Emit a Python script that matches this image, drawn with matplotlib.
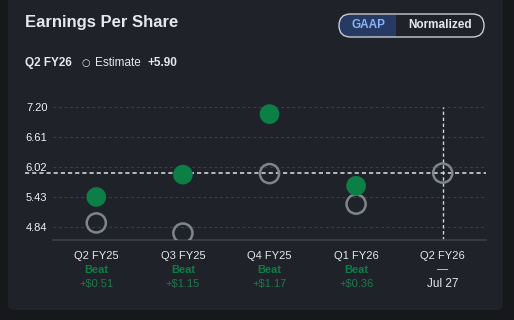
import numpy as np
import matplotlib.pyplot as plt
from matplotlib.patches import FancyBboxPatch, Rectangle

# Datos
quarters = ["Q2 FY25", "Q3 FY25", "Q4 FY25", "Q1 FY26", "Q2 FY26"]
estimates = [4.92, 4.72, 5.89, 5.29, 5.90]
actuals = [5.43, 5.87, 7.06, 5.65]
results = ["Beat", "Beat", "Beat", "Beat", "—"]
surprises = ["+$0.51", "+$1.15", "+$1.17", "+$0.36", "Jul 27"]
yticks = [4.84, 5.43, 6.02, 6.61, 7.20]
next_estimate = 5.90

BG = "#16181c"
CARD = "#1f2229"
GREEN = "#0b7f46"
GREY = "#80858c"
TXT = "#e6e8eb"
GRID = "#3b3f47"

plt.rcParams['font.family'] = ['Liberation Sans', 'DejaVu Sans']

fig = plt.figure(figsize=(5.14, 3.20), dpi=100, facecolor=BG)
W, H = 514, 320

def fx(px):
    return px / W

def fy(py):
    return 1 - py / H

# Capa de fondo en coordenadas de pixel
bg = fig.add_axes([0, 0, 1, 1], zorder=-1)
bg.set_xlim(0, W)
bg.set_ylim(H, 0)
bg.axis("off")
bg.add_patch(FancyBboxPatch((8, -20), 495, 330,
                            boxstyle="round,pad=0,rounding_size=6",
                            facecolor=CARD, edgecolor="none"))

# Selector GAAP / Normalized
bg.add_patch(FancyBboxPatch((339.5, 14.5), 56, 22,
                            boxstyle="round,pad=0,rounding_size=11",
                            facecolor="#263a63", edgecolor="none"))
bg.add_patch(Rectangle((370, 14.5), 26, 22, facecolor="#263a63",
                       edgecolor="none"))
bg.add_patch(FancyBboxPatch((339, 14), 145, 23,
                            boxstyle="round,pad=0,rounding_size=11.5",
                            facecolor="none", edgecolor="#c9ccd1",
                            linewidth=1.0))
bg.text(368, 25, "GAAP", color="#8ab4f8", fontsize=8.5,
        fontweight="bold", ha="center", va="center")
bg.text(440, 25, "Normalized", color=TXT, fontsize=8.5,
        fontweight="bold", ha="center", va="center")

# Titulo y subtitulo
bg.text(25, 22, "Earnings Per Share", color=TXT, fontsize=12,
        fontweight="bold", va="center", ha="left")
bg.text(25, 63, "Q2 FY26", color=TXT, fontsize=8.5,
        fontweight="bold", va="center")
bg.text(82, 63, "○", color=TXT, fontsize=7, va="center",
        family=['DejaVu Sans'])
bg.text(95, 63, "Estimate", color=TXT, fontsize=8.5, va="center")
bg.text(147, 63, "+%.2f" % next_estimate, color=TXT, fontsize=8.5,
        fontweight="bold", va="center")

# Grafico
ax = fig.add_axes([fx(53), fy(240), fx(486) - fx(53), (240 - 95) / H])
ax.set_facecolor("none")
x = np.arange(len(quarters))

ax.set_xlim(-0.5, 4.5)
ax.set_ylim(4.584, 7.436)
ax.set_yticks(yticks)
ax.set_yticklabels(["%.2f" % v for v in yticks])
for v in yticks:
    ax.axhline(v, color=GRID, linestyle=(0, (2.5, 2.5)), linewidth=0.8, zorder=1)

for s in ["top", "right", "left"]:
    ax.spines[s].set_visible(False)
ax.spines["bottom"].set_color(GRID)
ax.spines["bottom"].set_linewidth(1.2)
ax.tick_params(axis="y", length=0, colors="#f0f2f4", labelsize=8, pad=4)
ax.tick_params(axis="x", length=0)
ax.set_xticks([])

# Linea del estimado siguiente
ax.plot([-0.82, 4.5], [next_estimate, next_estimate], color="#d0d3d8",
        linestyle=(0, (2.5, 1.8)), linewidth=1.2, clip_on=False, zorder=2)
ax.plot([4, 4], [4.584, 7.20], color="#d0d3d8", linestyle=(0, (2.5, 1.8)),
        linewidth=1.0, zorder=2)

ax.scatter(x, estimates, s=190, facecolor="none", edgecolor=GREY,
           linewidth=1.8, zorder=4)
ax.scatter(x[:len(actuals)], actuals, s=200, color=GREEN, edgecolor="none",
           zorder=5)

# Etiquetas inferiores
for i, q in enumerate(quarters):
    xf = ax.transData.transform((i, 0))[0] / fig.bbox.width
    fig.text(xf, fy(256), q, color=TXT, fontsize=8, ha="center", va="center")
    if results[i] == "Beat":
        fig.text(xf, fy(270), results[i], color=GREEN, fontsize=8,
                 fontweight="bold", ha="center", va="center")
        fig.text(xf, fy(284), surprises[i], color="#1f7a4c", fontsize=8,
                 ha="center", va="center")
    else:
        fig.text(xf, fy(269), results[i], color=TXT, fontsize=8,
                 ha="center", va="center")
        fig.text(xf, fy(284), surprises[i], color=TXT, fontsize=8.5,
                 ha="center", va="center")

fig.savefig("out.png", dpi=100, facecolor=BG)
